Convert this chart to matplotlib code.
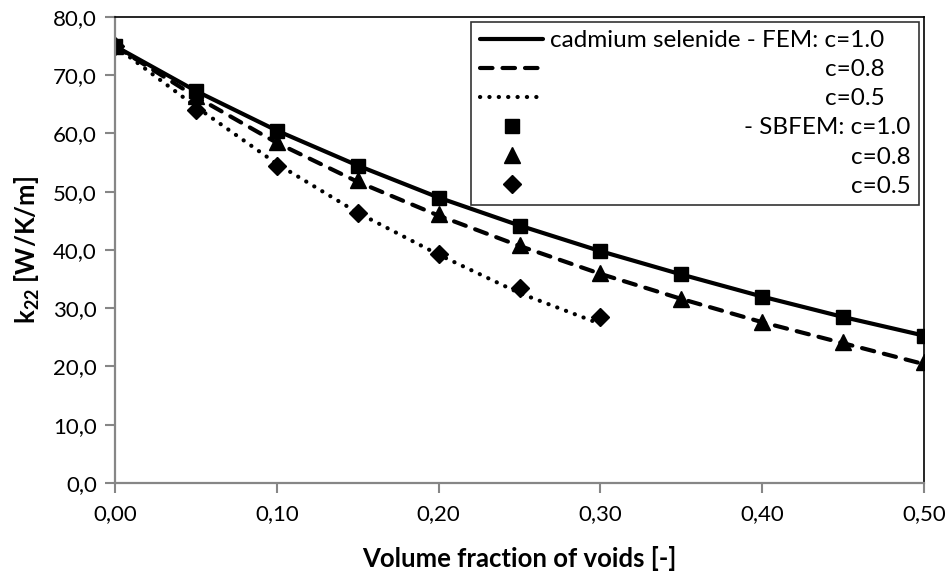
import numpy as np
import matplotlib
matplotlib.use("Agg")
import matplotlib.pyplot as plt
from matplotlib.ticker import FuncFormatter, MultipleLocator

plt.rcParams['font.family'] = ['Lato', 'DejaVu Sans']
plt.rcParams['mathtext.fontset'] = 'custom'
plt.rcParams['mathtext.rm'] = 'Lato'
plt.rcParams['mathtext.bf'] = 'Lato:bold'

# datos
x_fem1 = [0.00, 0.05, 0.10, 0.15, 0.20, 0.25, 0.30, 0.35, 0.40, 0.45, 0.50]
y_fem1 = [75.0, 67.3, 60.5, 54.5, 49.0, 44.2, 39.8, 35.8, 32.0, 28.5, 25.3]
x_fem08 = [0.00, 0.05, 0.10, 0.15, 0.20, 0.25, 0.30, 0.35, 0.40, 0.45, 0.50]
y_fem08 = [75.0, 66.3, 58.4, 51.7, 45.9, 40.7, 35.9, 31.6, 27.6, 24.0, 20.4]
x_fem05 = [0.00, 0.05, 0.10, 0.15, 0.20, 0.25, 0.30]
y_fem05 = [75.0, 64.6, 54.8, 46.4, 39.2, 32.6, 27.3]

x_sb1 = [0.00, 0.05, 0.10, 0.15, 0.20, 0.25, 0.30, 0.35, 0.40, 0.45, 0.50]
y_sb1 = [75.0, 67.3, 60.5, 54.5, 49.0, 44.2, 39.8, 35.8, 32.0, 28.5, 25.3]
x_sb08 = [0.00, 0.05, 0.10, 0.15, 0.20, 0.25, 0.30, 0.35, 0.40, 0.45, 0.50]
y_sb08 = [75.0, 66.5, 58.6, 52.0, 46.1, 40.9, 36.0, 31.6, 27.7, 24.2, 20.8]
x_sb05 = [0.00, 0.05, 0.10, 0.15, 0.20, 0.25, 0.30]
y_sb05 = [75.0, 64.0, 54.4, 46.3, 39.3, 33.5, 28.5]

etiquetas = ["cadmium selenide - FEM: c=1.0", "c=0.8", "c=0.5",
             "- SBFEM: c=1.0", "c=0.8", "c=0.5"]

fig = plt.figure(figsize=(9.53, 5.72), dpi=100)
ax = fig.add_axes([0.1207, 0.1556, 0.8489, 0.8147])

ax.plot(x_fem1, y_fem1, color='black', lw=3.0, solid_capstyle='round', label=etiquetas[0])
ax.plot(x_fem08, y_fem08, color='black', lw=3.0, dashes=(3.0, 2.4), dash_capstyle='round', label=etiquetas[1])
ax.plot(x_fem05, y_fem05, color='black', lw=3.0, dashes=(0.05, 2.2), dash_capstyle='round', label=etiquetas[2])
ax.plot(x_sb1, y_sb1, 's', color='black', ms=10.5, label=etiquetas[3])
ax.plot(x_sb08, y_sb08, '^', color='black', ms=11, label=etiquetas[4])
ax.plot(x_sb05, y_sb05, 'D', color='black', ms=9.5, label=etiquetas[5])

ax.set_xlim(0, 0.5)
ax.set_ylim(0, 80)
ax.xaxis.set_major_locator(MultipleLocator(0.1))
ax.yaxis.set_major_locator(MultipleLocator(10))
ax.xaxis.set_major_formatter(FuncFormatter(lambda v, p: f"{v:.2f}".replace('.', ',')))
ax.yaxis.set_major_formatter(FuncFormatter(lambda v, p: f"{v:.1f}".replace('.', ',')))
ax.tick_params(axis='both', labelsize=16, color='#868686', length=7, width=1.5, direction='out')
ax.tick_params(axis='y', pad=6)
ax.tick_params(axis='x', pad=8)

for lado in ['left', 'bottom']:
    ax.spines[lado].set_color('#868686')
    ax.spines[lado].set_linewidth(1.6)
for lado in ['top', 'right']:
    ax.spines[lado].set_color('black')
    ax.spines[lado].set_linewidth(1.2)

ax.set_xlabel("Volume fraction of voids [-]", fontsize=18.5, fontweight='bold', labelpad=16)
ax.set_ylabel(r"$\mathbf{k_{22}}$" + " [W/K/m]", fontsize=18.5, fontweight='bold', labelpad=8)

leg = ax.legend(loc='upper right', bbox_to_anchor=(1.0, 1.0), fontsize=17.5, frameon=True,
                fancybox=False, edgecolor='black', handlelength=2.6, handletextpad=0.3,
                borderpad=0.35, labelspacing=0.33, borderaxespad=0.2)
leg.get_frame().set_linewidth(1.2)

# etiquetas alineadas a la derecha: filas FEM y SBFEM con distinto borde
fig.canvas.draw()
renderer = fig.canvas.get_renderer()
filas = leg._legend_handle_box.get_children()[0].get_children()
ancho = max([f.get_bbox(renderer).width for f in filas])
for i, f in enumerate(filas):
    f.mode = 'expand'
    f.width = ancho if i < 3 else ancho + 26

fig.savefig("out.png", dpi=100)
